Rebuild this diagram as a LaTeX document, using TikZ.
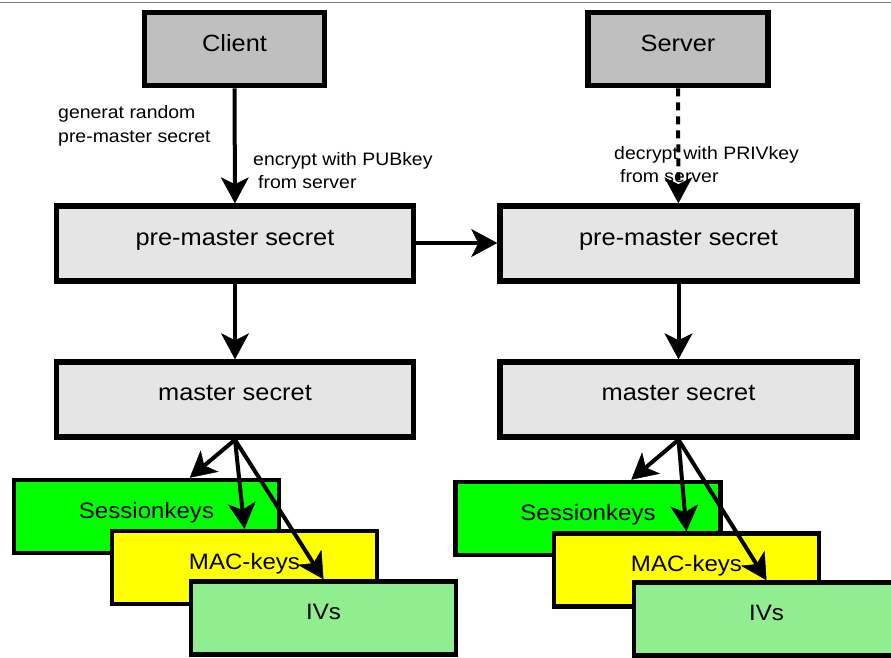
\documentclass[tikz,border=0pt]{standalone}
\usepackage{fontspec}
\setmainfont[FakeStretch=1.08]{Liberation Sans}
\usetikzlibrary{arrows.meta,calc}
\definecolor{topgray}{HTML}{BFBFBF}
\definecolor{boxgray}{HTML}{E5E5E5}
\definecolor{skgreen}{HTML}{00FF00}
\definecolor{macyellow}{HTML}{FFFF00}
\definecolor{ivgreen}{HTML}{90EE90}
\tikzset{
  bigbox/.style={draw=black, line width=5.5pt, inner sep=0pt},
  endbox/.style={draw=black, line width=4.5pt, inner sep=0pt, minimum width=265pt, minimum height=73pt},
  boxtext/.style={inner sep=0pt, anchor=base, font=\fontsize{23.5}{28}\selectfont},
  endtext/.style={inner sep=0pt, anchor=base, font=\fontsize{22.3}{26}\selectfont},
  smalltext/.style={inner sep=0pt, anchor=base west, font=\fontsize{18}{22}\selectfont},
  arr/.style={line width=4pt, -{Stealth[length=26pt,width=28pt,inset=7pt,line width=0.5pt]}},
}
\begin{document}
\begin{tikzpicture}[x=1pt,y=-1pt]
\useasboundingbox (0,0) rectangle (891,657);
\clip (0,0) rectangle (891,657);
\draw[line width=1.5pt, gray] (0,2.5) -- (891,2.5);

% top boxes
\node[bigbox, fill=topgray, minimum width=180pt, minimum height=73pt] (client) at (234.5,49) {};
\node[bigbox, fill=topgray, minimum width=180pt, minimum height=73pt] (server) at (678,49) {};
\node[bigbox, fill=boxgray, minimum width=357pt, minimum height=75pt] (pre1) at (235,243.5) {};
\node[bigbox, fill=boxgray, minimum width=357pt, minimum height=75pt] (pre2) at (678.5,243.5) {};
\node[bigbox, fill=boxgray, minimum width=357pt, minimum height=75pt] (ms1) at (235,399.5) {};
\node[bigbox, fill=boxgray, minimum width=357pt, minimum height=75pt] (ms2) at (678.5,399.5) {};

\node[boxtext] (clientT) at ($(client.center)+(0,2)$) {Client};
\node[boxtext] (serverT) at ($(server.center)+(0,2)$) {Server};
\node[boxtext] (pre1T) at ($(pre1.center)+(0,2)$) {pre-master secret};
\node[boxtext] (pre2T) at ($(pre2.center)+(0,2)$) {pre-master secret};
\node[boxtext] (ms1T) at ($(ms1.center)+(0,1)$) {master secret};
\node[boxtext] (ms2T) at ($(ms2.center)+(0,1)$) {master secret};

% bottom boxes left
\node[endbox, fill=skgreen] (sk1) at (146.5,516.5) {};
\node[endtext] (sk1T) at ($(sk1.center)+(0,1.5)$) {Sessionkeys};
\node[endbox, fill=macyellow] (mac1) at (244.5,567.5) {};
\node[endtext] (mac1T) at ($(mac1.center)+(0,1.5)$) {MAC-keys};
\node[endbox, fill=ivgreen] (iv1) at (323.5,618) {};
\node[endtext] (iv1T) at ($(iv1.center)+(0,1)$) {IVs};

% bottom boxes right
\node[endbox, fill=skgreen] (sk2) at (588,518.5) {};
\node[endtext] (sk2T) at ($(sk2.center)+(0,1.5)$) {Sessionkeys};
\node[endbox, fill=macyellow] (mac2) at (686.5,570) {};
\node[endtext] (mac2T) at ($(mac2.center)+(0,1.5)$) {MAC-keys};
\node[endbox, fill=ivgreen] (iv2) at (766.5,619) {};
\node[endtext] (iv2T) at ($(iv2.center)+(0,1)$) {IVs};

% connectors
\draw[arr] (client) -- (pre1);
\draw[arr, dash pattern=on 8pt off 6pt] (server) -- (pre2);
\draw[arr] (pre1.east |- 0,243) -- (pre2.west |- 0,243);
\draw[arr] (pre1) -- (ms1);
\draw[arr] (pre2) -- (ms2);

\draw[arr] (ms1.south) -- ($(sk1.north west)+(178,0)$);
\draw[arr] (ms1.south) -- (mac1.north);
\draw[arr] (ms1.south) -- (iv1.north);
\draw[arr] (ms2.south) -- ($(sk2.north west)+(178,0)$);
\draw[arr] (ms2.south) -- (mac2.north);
\draw[arr] (ms2.south) -- (iv2.north);

% labels
\node[smalltext] (g1) at (58,118) {generat random};
\node[smalltext] (g2) at (58,142) {pre-master secret};
\node[smalltext] (e1) at (253,165) {encrypt with PUBkey};
\node[smalltext] (e2) at (258,188) {from server};
\node[smalltext] (d1) at (614,159) {decrypt with PRIVkey};
\node[smalltext] (d2) at (620,182) {from server};
\end{tikzpicture}
\end{document}
